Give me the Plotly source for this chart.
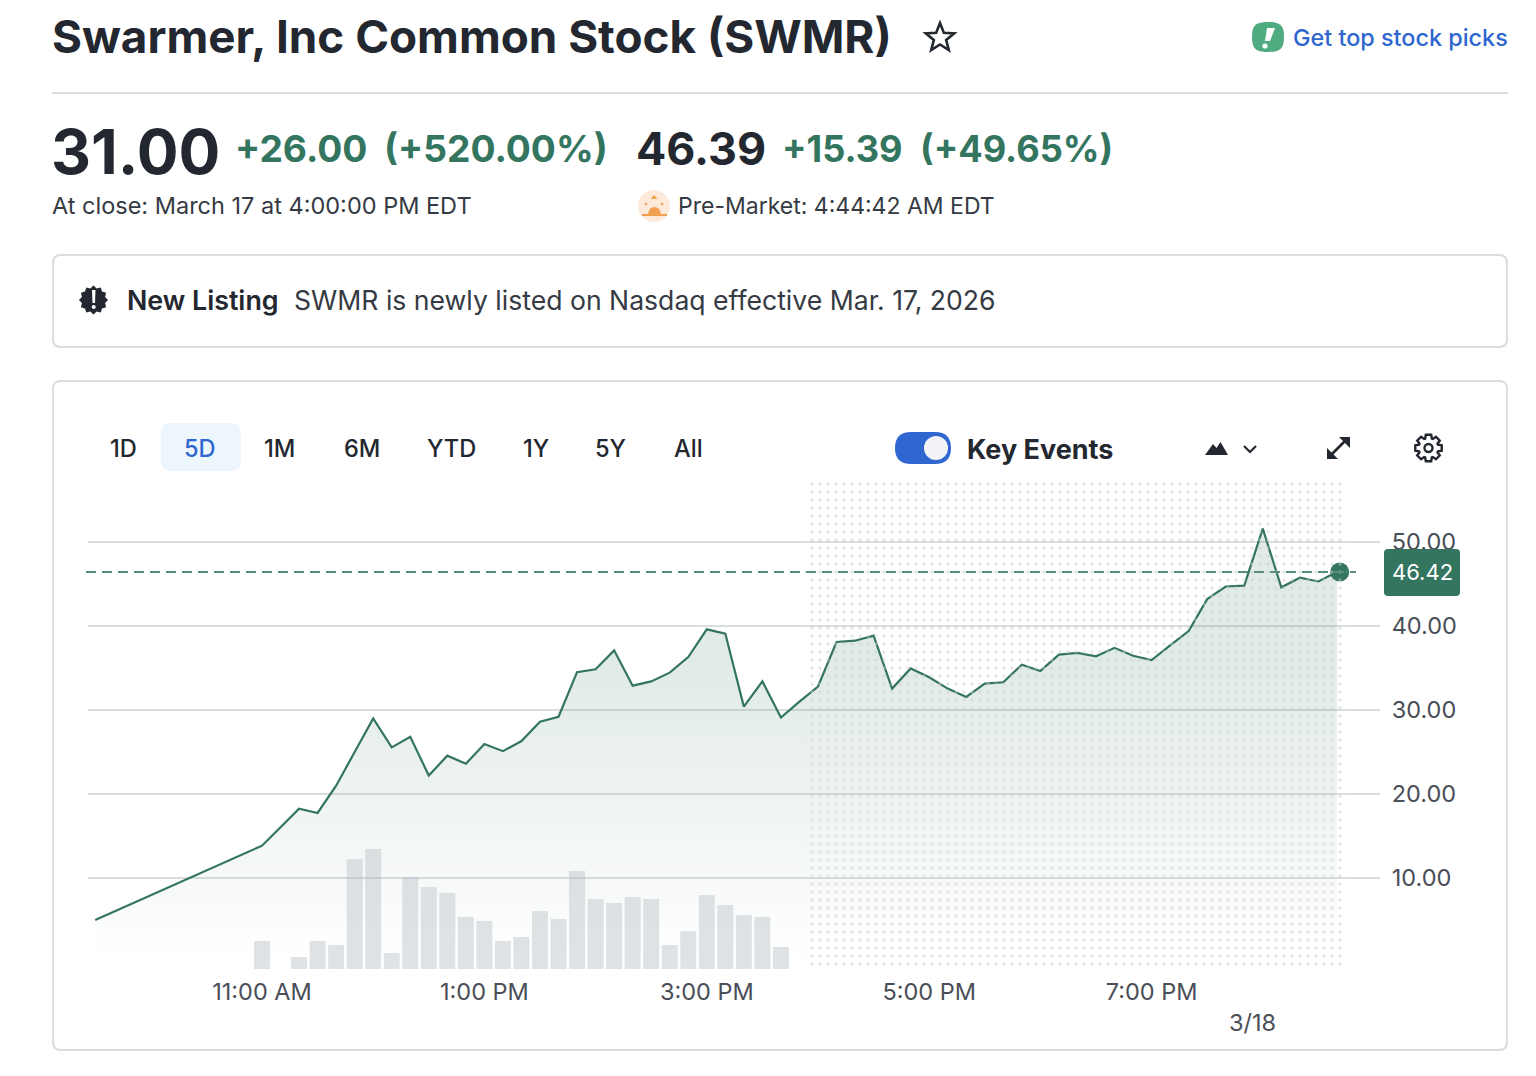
import math
import re
import plotly.graph_objects as go

W, H = 1536, 1076
DAY = "2026-03-18 "

# ---- data ----
price_times = ["09:30", "11:00", "11:10", "11:20", "11:30", "11:40", "11:50", "12:00", "12:10", "12:20",
               "12:30", "12:40", "12:50", "13:00", "13:10", "13:20", "13:30", "13:40", "13:50", "14:00",
               "14:10", "14:20", "14:30", "14:40", "14:50", "15:00", "15:10", "15:20", "15:30", "15:40",
               "15:50", "16:00", "16:10", "16:20", "16:30", "16:40", "16:50", "17:00", "17:10", "17:20",
               "17:30", "17:40", "17:50", "18:00", "18:10", "18:20", "18:30", "18:40", "18:50", "19:00",
               "19:10", "19:20", "19:30", "19:40", "19:50", "20:00", "20:10", "20:20", "20:30", "20:40"]
prices = [5.00, 13.85, 16.05, 18.25, 17.74, 20.99, 25.0, 29.0, 25.55, 26.8,
          22.2, 24.56, 23.6, 25.95, 25.1, 26.3, 28.6, 29.2, 34.5, 34.85,
          37.1, 32.9, 33.4, 34.45, 36.3, 39.6, 39.1, 30.4, 33.4, 29.1,
          31.0, 32.8, 38.1, 38.25, 38.85, 32.55, 34.95, 33.9, 32.55, 31.55,
          33.15, 33.3, 35.4, 34.65, 36.6, 36.8, 36.4, 37.4, 36.45, 35.95,
          37.7, 39.4, 43.2, 44.7, 44.8, 51.6, 44.6, 45.75, 45.3, 46.42]
volume_times = ["11:00", "11:20", "11:30", "11:40", "11:50", "12:00", "12:10", "12:20", "12:30", "12:40",
                "12:50", "13:00", "13:10", "13:20", "13:30", "13:40", "13:50", "14:00", "14:10", "14:20",
                "14:30", "14:40", "14:50", "15:00", "15:10", "15:20", "15:30", "15:40"]
volumes = [28, 12, 28, 24, 110, 120, 16, 92, 82, 76,
           52, 48, 28, 32, 58, 50, 98, 70, 66, 72,
           70, 24, 38, 74, 64, 54, 52, 22]
last_time = "20:41:30"
last_price = 46.42
y_ticks = [10, 20, 30, 40, 50]
x_tick_times = ["11:00", "13:00", "15:00", "17:00", "19:00"]
x_tick_labels = ["11:00 AM", "1:00 PM", "3:00 PM", "5:00 PM", "7:00 PM"]
tabs = ["1D", "5D", "1M", "6M", "YTD", "1Y", "5Y", "All"]
tab_centres = [123, 200, 279.5, 361.5, 451, 535.5, 610.5, 688]

# ---- colours ----
GREEN = "#33755f"
INK = "#23272f"
BLUE = "#2f66d0"
BORDER = "#d9dce1"
AXIS_TEXT = "#4a4e57"
TEXT_FONT = "Inter"


def px(x):
    return x / W


def py(y):
    return 1 - y / H


def P(s):
    out, is_x = [], True
    for tok in re.findall(r"[MLCQZ]|-?\d+\.?\d*", s):
        if tok in "MLCQZ":
            out.append(tok)
            is_x = True
        else:
            out.append(f"{px(float(tok)):.6f}" if is_x else f"{py(float(tok)):.6f}")
            is_x = not is_x
    return " ".join(out)


shapes, notes = [], []


def path(s, fill="rgba(0,0,0,0)", line=None, lw=0, layer="above"):
    shapes.append(dict(type="path", xref="paper", yref="paper", path=P(s), fillcolor=fill,
                       line=dict(color=line or "rgba(0,0,0,0)", width=lw), layer=layer))


def rrect(x0, y0, x1, y1, r, **kw):
    path(f"M{x0 + r} {y0} L{x1 - r} {y0} Q{x1} {y0} {x1} {y0 + r} L{x1} {y1 - r} Q{x1} {y1} {x1 - r} {y1} "
         f"L{x0 + r} {y1} Q{x0} {y1} {x0} {y1 - r} L{x0} {y0 + r} Q{x0} {y0} {x0 + r} {y0} Z", **kw)


def circle(cx, cy, r, fill="rgba(0,0,0,0)", line=None, lw=0):
    shapes.append(dict(type="circle", xref="paper", yref="paper", x0=px(cx - r), x1=px(cx + r),
                       y0=py(cy + r), y1=py(cy - r), fillcolor=fill,
                       line=dict(color=line or "rgba(0,0,0,0)", width=lw), layer="above"))


def poly(cx, cy, n, r1, r2, rot=-math.pi / 2):
    pts = []
    for i in range(2 * n):
        r = r1 if i % 2 == 0 else r2
        a = rot + i * math.pi / n
        pts.append(f"{cx + r * math.cos(a):.2f} {cy + r * math.sin(a):.2f}")
    return "M" + " L".join(pts) + " Z"


def text(t, x, y, size, color=INK, weight=400, anchor="left", font=TEXT_FONT):
    notes.append(dict(text=t, x=px(x), y=py(y), xref="paper", yref="paper", xanchor=anchor, yanchor="middle",
                      showarrow=False, borderpad=0, borderwidth=0,
                      font=dict(family=font, size=size, color=color, weight=weight)))


# ---- page furniture ----
text("Swarmer, Inc Common Stock (SWMR)", 52, 37, 45.8, INK, 700)
path(poly(940, 38, 5, 15, 6.5), line=INK, lw=2.6)
path("M1268 22 C1281 22 1284 26 1284 37 C1284 48 1281 52 1268 52 C1255 52 1252 48 1252 37 C1252 26 1255 22 1268 22 Z",
     fill="#4fab80")
path("M1267 28 L1275 28 L1270 41 L1265 41 Z", fill="white")
circle(1265, 46, 2.6, fill="white")
text("Get top stock picks", 1293, 38, 23.4, BLUE, 500)
path("M52 93 L1508 93", line=BORDER, lw=2)

text("31.00", 50.5, 151, 62, INK, 700)
text("+26.00", 234.5, 149, 37.2, GREEN, 700)
text("(+520.00%)", 383.5, 149, 37.2, GREEN, 700)
text("46.39", 635.5, 149, 44.8, INK, 700)
text("+15.39", 781.5, 149, 36.2, GREEN, 700)
text("(+49.65%)", 919.5, 149, 36.2, GREEN, 700)
text("At close: March 17 at 4:00:00 PM EDT", 52, 205.5, 23.5, "#353a43")
text("Pre-Market: 4:44:42 AM EDT", 678, 206, 23, "#353a43")
circle(654, 206, 16, fill="#fdeadb")
path("M642 214 L667 214 L667 216 L642 216 Z", fill="#f0a050")
path("M648 214 Q649 207 654 207 Q660 207 661 214 Z", fill="#f0a050")
path("M654 195 L657.5 199 L650.5 199 Z", fill="#f0a050")
circle(646, 204, 1.3, fill="#f0a050")
circle(662, 204, 1.3, fill="#f0a050")

rrect(53, 255, 1507, 347, 8, line=BORDER, lw=2, fill="white", layer="below")
path(poly(93.5, 300, 12, 14.5, 12), fill=INK)
path("M92 290 L95.5 290 L95 303 L92.5 303 Z", fill="white")
circle(93.7, 307, 2, fill="white")
text("New Listing", 127, 300, 26.8, INK, 600)
text("SWMR is newly listed on Nasdaq effective Mar. 17, 2026", 294, 300, 26.6, "#353a43")

rrect(53, 381, 1507, 1050, 8, line=BORDER, lw=2, fill="white", layer="below")
rrect(161, 423, 241, 471, 10, fill="#eef6fd", layer="below")
for label, c in zip(tabs, tab_centres):
    text(label, c, 448, 23.6, BLUE if label == "5D" else INK, 500, anchor="center")
rrect(895, 432, 951, 464, 16, fill=BLUE)
circle(936, 448, 12, fill="#f2f3f6")
text("Key Events", 967, 450, 27, INK, 700)
path("M1205 455 L1213 444 L1216.5 448 L1220.5 442 L1228 455 Z", fill=INK)
path("M1244 446 L1250 452 L1256 446", line=INK, lw=2.2)
path("M1330 456 L1347 439", line=INK, lw=2.6)
path("M1339 437 L1350 437 L1350 448 Z", fill=INK)
path("M1327 448 L1327 459 L1338 459 Z", fill=INK)
gear = []
for i in range(8):
    a0 = i * math.pi / 4
    for da, r in ((-0.2, 13.5), (0.2, 13.5), (0.34, 10), (0.45, 10)):
        gear.append(f"{1428.5 + r * math.cos(a0 + da):.2f} {448 + r * math.sin(a0 + da):.2f}")
path("M" + " L".join(gear) + " Z", line=INK, lw=2.4)
circle(1428.5, 448, 4, line=INK, lw=2.4)

# last-price line and tag
shapes.append(dict(type="line", xref="paper", yref="y", x0=px(86), x1=px(1356), y0=last_price, y1=last_price,
                   line=dict(color="#5a8f7d", width=2, dash="10px,6px"), layer="above"))
rrect(1384, 549, 1460, 596, 4, fill=GREEN)
notes.append(dict(text=f"{last_price:.2f}", x=px(1422), y=last_price, xref="paper", yref="y", xanchor="center",
                  yanchor="middle", showarrow=False, font=dict(family=TEXT_FONT, size=22, color="white")))
text("3/18", 1252, 1022, 23.5, AXIS_TEXT, anchor="center")

# ---- traces ----
fig = go.Figure()
fig.add_trace(go.Scatter(
    x=[DAY + t for t in price_times], y=prices, mode="lines", yaxis="y",
    line=dict(color=GREEN, width=2.2), fill="tozeroy",
    fillgradient=dict(type="vertical", start=0, stop=50,
                      colorscale=[[0, "rgba(51,117,95,0)"], [0.72, "rgba(51,117,95,0.15)"],
                                  [1, "rgba(51,117,95,0.15)"]]),
))
fig.add_trace(go.Scatter(x=[DAY + last_time], y=[last_price], mode="markers", yaxis="y",
                         marker=dict(color=GREEN, size=19)))
# extended-hours dotted band
fig.add_trace(go.Bar(x=[DAY + "15:53"], y=[488], base=[3], width=[17550000], offset=0, yaxis="y2",
                     marker=dict(color="rgba(0,0,0,0)", line=dict(width=0),
                                 pattern=dict(shape=".", size=8, solidity=0.13, fgcolor="#cbced1",
                                              bgcolor="rgba(0,0,0,0)", fillmode="overlay"))))
fig.add_trace(go.Bar(x=[DAY + t for t in volume_times], y=volumes, width=518000, yaxis="y2",
                     marker=dict(color="rgba(180,188,196,0.42)", line=dict(width=0))))

fig.update_layout(
    width=W, height=H, margin=dict(l=0, r=0, t=0, b=0), showlegend=False, barmode="overlay",
    paper_bgcolor="white", plot_bgcolor="rgba(0,0,0,0)", hovermode=False,
    font=dict(family=TEXT_FONT),
    xaxis=dict(type="date", domain=[px(88), px(1380)], range=[DAY + "09:26:07", DAY + "21:03:15"],
               tickvals=[DAY + t for t in x_tick_times], ticktext=x_tick_labels, showgrid=False, zeroline=False,
               showline=False, ticks="outside", ticklen=1, tickcolor="rgba(0,0,0,0)",
               tickfont=dict(size=23.5, color=AXIS_TEXT, family=TEXT_FONT), tickangle=0),
    yaxis=dict(domain=[py(970), py(480)], range=[-0.952, 57.38], side="right", tickvals=y_ticks,
               tickformat=".2f", showgrid=True, gridcolor="#d9dee2", gridwidth=2, zeroline=False, showline=False,
               ticks="outside", ticklen=6, tickcolor="rgba(0,0,0,0)",
               tickfont=dict(size=23.5, color=AXIS_TEXT, family=TEXT_FONT)),
    yaxis2=dict(domain=[py(970), py(480)], overlaying="y", range=[-1, 489], visible=False),
    shapes=shapes, annotations=notes,
)

fig.write_html("out.html", config={"displayModeBar": False, "staticPlot": True},
               post_script="document.body.style.margin='0';document.documentElement.style.overflow='hidden';")
